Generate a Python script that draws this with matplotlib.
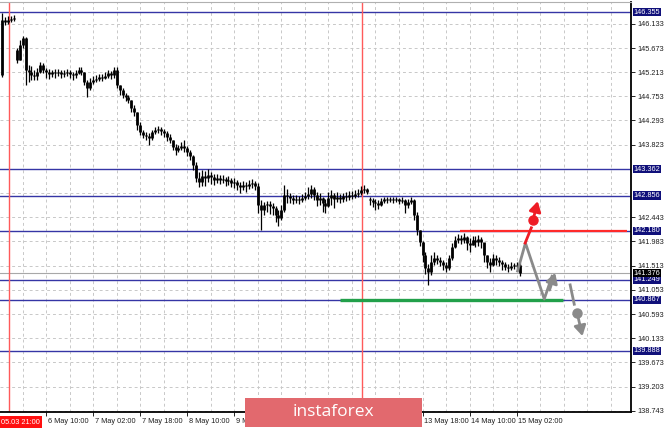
import numpy as np
import matplotlib
matplotlib.use("Agg")
import matplotlib.pyplot as plt
import matplotlib.transforms as mtrans
from matplotlib.patches import Rectangle

plt.rcParams['font.family'] = ['Liberation Sans', 'DejaVu Sans']

# H1 candles (price)
closes = [146.21, 146.17, 146.21, 146.23, 146.25, 145.45, 145.73, 145.87, 145.25, 145.22,
          145.16, 145.14, 145.22, 145.35, 145.25, 145.22, 145.18, 145.22, 145.20, 145.22,
          145.18, 145.20, 145.22, 145.18, 145.16, 145.20, 145.25, 145.22, 145.03, 144.91,
          145.03, 145.06, 145.08, 145.12, 145.10, 145.14, 145.20, 145.16, 145.25, 144.97,
          144.87, 144.78, 144.74, 144.68, 144.53, 144.45, 144.20, 144.07, 144.01, 143.99,
          143.95, 144.07, 144.11, 144.13, 144.09, 144.05, 143.97, 143.92, 143.78, 143.73,
          143.76, 143.80, 143.76, 143.69, 143.61, 143.44, 143.19, 143.11, 143.23, 143.19,
          143.25, 143.21, 143.15, 143.19, 143.15, 143.17, 143.13, 143.15, 143.09, 143.11,
          143.06, 143.02, 143.06, 143.04, 143.08, 143.09, 143.04, 142.68, 142.58, 142.68,
          142.69, 142.66, 142.62, 142.48, 142.43, 142.58, 142.87, 142.85, 142.81, 142.77,
          142.79, 142.77, 142.81, 142.85, 142.89, 142.98, 142.87, 142.77, 142.81, 142.71,
          142.66, 142.81, 142.87, 142.79, 142.83, 142.79, 142.85, 142.83, 142.87, 142.85,
          142.89, 142.91, 142.96, 142.98, 142.92, 142.77, 142.73, 142.71, 142.68, 142.75,
          142.79, 142.77, 142.79, 142.77, 142.79, 142.75, 142.77, 142.68, 142.73, 142.77,
          142.48, 142.20, 141.97, 141.72, 141.47, 141.40, 141.59, 141.66, 141.63, 141.59,
          141.53, 141.47, 141.66, 141.87, 142.01, 142.05, 142.01, 142.06, 141.95, 141.91,
          142.01, 141.97, 142.03, 141.97, 141.72, 141.59, 141.53, 141.66, 141.63, 141.59,
          141.55, 141.49, 141.47, 141.51, 141.51, 141.53, 141.376]
highs = [146.34, 146.27, 146.29, 146.29, 146.30, 145.67, 145.83, 145.90, 145.88, 145.35,
         145.33, 145.25, 145.29, 145.41, 145.39, 145.29, 145.27, 145.25, 145.27, 145.27,
         145.25, 145.25, 145.27, 145.25, 145.22, 145.25, 145.31, 145.31, 145.22, 145.06,
         145.10, 145.14, 145.16, 145.18, 145.18, 145.22, 145.25, 145.24, 145.31, 145.31,
         144.97, 144.91, 144.81, 144.78, 144.68, 144.59, 144.45, 144.26, 144.11, 144.07,
         144.05, 144.11, 144.17, 144.18, 144.17, 144.13, 144.09, 144.03, 143.92, 143.84,
         143.82, 143.88, 143.92, 143.80, 143.73, 143.63, 143.50, 143.31, 143.34, 143.32,
         143.36, 143.31, 143.27, 143.27, 143.25, 143.25, 143.21, 143.23, 143.19, 143.19,
         143.15, 143.11, 143.13, 143.11, 143.15, 143.17, 143.13, 143.09, 142.77, 142.73,
         142.75, 142.75, 142.71, 142.66, 142.58, 142.68, 143.06, 142.98, 142.91, 142.87,
         142.87, 142.85, 142.89, 142.92, 143.02, 143.06, 143.02, 142.92, 142.91, 142.83,
         142.79, 142.92, 142.96, 142.91, 142.92, 142.89, 142.91, 142.92, 142.94, 142.94,
         142.96, 142.98, 143.04, 143.06, 143.00, 142.83, 142.81, 142.79, 142.77, 142.81,
         142.83, 142.83, 142.83, 142.83, 142.83, 142.81, 142.83, 142.79, 142.79, 142.83,
         142.79, 142.54, 142.20, 141.99, 141.78, 141.55, 141.72, 141.78, 141.72, 141.68,
         141.63, 141.59, 141.72, 141.95, 142.08, 142.12, 142.10, 142.14, 142.08, 142.05,
         142.08, 142.08, 142.10, 142.06, 141.91, 141.72, 141.66, 141.74, 141.72, 141.68,
         141.63, 141.59, 141.55, 141.59, 141.57, 141.59, 141.57]
lows = [145.12, 146.11, 146.13, 146.17, 146.19, 145.39, 145.45, 145.67, 144.97, 145.03,
        145.06, 145.06, 145.06, 145.20, 145.20, 145.10, 145.08, 145.12, 145.10, 145.14,
        145.10, 145.12, 145.14, 145.10, 145.06, 145.10, 145.18, 145.16, 144.97, 144.74,
        144.87, 144.99, 145.03, 145.04, 145.04, 145.08, 145.10, 145.08, 145.10, 144.91,
        144.78, 144.72, 144.66, 144.62, 144.45, 144.38, 144.11, 144.01, 143.95, 143.92,
        143.82, 143.92, 144.03, 144.05, 144.01, 143.97, 143.90, 143.86, 143.73, 143.63,
        143.69, 143.73, 143.69, 143.61, 143.54, 143.34, 143.11, 143.02, 143.04, 143.04,
        143.11, 143.08, 143.06, 143.09, 143.08, 143.09, 143.04, 143.06, 143.02, 143.00,
        142.96, 142.91, 142.96, 142.92, 142.98, 143.00, 142.96, 142.52, 142.20, 142.48,
        142.54, 142.50, 142.48, 142.35, 142.27, 142.39, 142.54, 142.71, 142.71, 142.69,
        142.71, 142.69, 142.73, 142.77, 142.79, 142.81, 142.77, 142.66, 142.68, 142.54,
        142.52, 142.64, 142.68, 142.62, 142.73, 142.71, 142.73, 142.75, 142.77, 142.79,
        142.81, 142.83, 142.87, 142.91, 142.89, 142.68, 142.64, 142.58, 142.60, 142.66,
        142.71, 142.71, 142.73, 142.71, 142.73, 142.69, 142.71, 142.52, 142.62, 142.69,
        142.39, 142.10, 141.89, 141.59, 141.36, 141.15, 141.34, 141.53, 141.55, 141.51,
        141.43, 141.40, 141.43, 141.63, 141.85, 141.95, 141.93, 141.95, 141.82, 141.78,
        141.91, 141.87, 141.89, 141.85, 141.59, 141.47, 141.40, 141.51, 141.53, 141.51,
        141.43, 141.43, 141.40, 141.43, 141.45, 141.47, 141.32]
gap_opens = {0: 145.16, 5: 145.64, 125: 142.79}

# time axis labels (bar index -> text); labels hidden under the watermark left blank
time_pos = [15, 31, 47, 63, 79, 95, 111, 127, 143, 159, 175]
time_labels = ["6 May 10:00", "7 May 02:00", "7 May 18:00", "8 May 10:00", "9 May 02:00",
               "", "", "", "13 May 18:00", "14 May 10:00", "15 May 02:00"]

# price grid and labelled levels
grid_prices = [146.133, 145.673, 145.213, 144.753, 144.293, 143.823, 143.363, 142.903,
               142.443, 141.983, 141.513, 141.053, 140.593, 140.133, 139.673, 139.203, 138.743]
hidden_grid = [143.363, 142.903]
levels = [146.355, 143.362, 142.856, 142.180, 141.249, 140.867, 139.888]
last_price = 141.376

# forecast drawings (bar index, price)
zigzag = [(175.2, 141.39), (178.0, 141.95), (184.4, 140.88), (188.4, 141.43)]
red_up = [(177.9, 141.95), (180.0, 142.24), (180.6, 142.39), (182.4, 142.80)]
gray_down = [(193.2, 141.15), (194.6, 140.78), (195.6, 140.61), (197.6, 140.12)]
red_level_start = 155.8
green_level = (114.9, 190.8, 140.855)
vlines_red = [2.4, 122.5]

W, H = 665, 429
fig = plt.figure(figsize=(W / 100, H / 100), dpi=100)
ax = fig.add_axes([0, 17 / H, 631 / W, 1 - 19 / H])

n = len(closes)
opens = [closes[0]] + closes[:-1]
for k, v in gap_opens.items():
    opens[k] = v
x = np.arange(n)
o = np.array(opens)
c = np.array(closes)
ax.vlines(x, lows, highs, color="black", lw=0.9, zorder=3)
lo = np.minimum(o, c)
hi = np.maximum(o, c)
hi = np.where(hi - lo < 0.012, lo + 0.012, hi)
ax.vlines(x, lo, hi, color="black", lw=2.0, zorder=3)

ax.set_xlim(-0.7, 213.9)
ax.set_ylim(138.722, 146.553)

# grid
gcol = "#c8c8c8"
for g in grid_prices:
    ax.axhline(g, color=gcol, lw=0.7, ls=(0, (3, 3)), zorder=1)
for gx in range(7, 214, 8):
    ax.axvline(gx, color=gcol, lw=0.7, ls=(0, (3, 3)), zorder=1)

# level lines
blue = "#3535a5"
for lv in levels:
    ax.axhline(lv, color=blue, lw=1.0, zorder=2)
ax.axhline(last_price, color="#a8a8a8", lw=0.8, zorder=2)
ax.hlines(levels[3], red_level_start, 212.6, color="#ff2a2a", lw=1.6, zorder=4)
ax.hlines(green_level[2], green_level[0], green_level[1], color="#22a04a", lw=2.4, zorder=4)
for vx in vlines_red:
    ax.axvline(vx, color="#ff5a5a", lw=1.0, zorder=2)

# forecast arrows
gray = "#8a8a8a"
zx, zy = zip(*zigzag[:3])
ax.plot(list(zx) + [zigzag[3][0] - 1.2], list(zy) + [zigzag[3][1] - 0.09], color=gray, lw=2.0,
        solid_capstyle="butt", zorder=5)
ax.annotate("", xy=zigzag[3], xytext=(zigzag[2][0] + 1.5, zigzag[2][1] + 0.12),
            arrowprops=dict(arrowstyle="-|>,head_length=0.6,head_width=0.35", color=gray, lw=2.0),
            zorder=5)

rc = "#ee1c25"
ax.plot([red_up[0][0], red_up[1][0]], [red_up[0][1], red_up[1][1]], color=rc, lw=2.0, zorder=5)
ax.plot(*red_up[2], "o", color=rc, ms=6.5, zorder=5)
ax.annotate("", xy=red_up[3], xytext=red_up[2],
            arrowprops=dict(arrowstyle="-|>,head_length=0.6,head_width=0.35", color=rc, lw=2.0),
            zorder=5)

ax.plot([gray_down[0][0], gray_down[1][0]], [gray_down[0][1], gray_down[1][1]], color=gray,
        lw=2.0, zorder=5)
ax.plot(*gray_down[2], "o", color=gray, ms=6.5, zorder=5)
ax.annotate("", xy=gray_down[3], xytext=gray_down[2],
            arrowprops=dict(arrowstyle="-|>,head_length=0.6,head_width=0.35", color=gray, lw=2.0),
            zorder=5)

# axes styling
ax.spines["left"].set_visible(False)
ax.spines["top"].set_color("#b0b0b0")
ax.spines["top"].set_linewidth(0.8)
ax.spines["right"].set_linewidth(1.3)
ax.spines["bottom"].set_linewidth(1.3)

ax.yaxis.tick_right()
shown = [g for g in grid_prices if g not in hidden_grid]
ax.set_yticks(shown)
ax.set_yticklabels(["%.3f" % g for g in shown], fontsize=5.3, color="#202020")
ax.tick_params(axis="y", length=3, width=0.6, pad=1.5)

ax.set_xticks(time_pos)
ax.set_xticklabels(time_labels, fontsize=5.3, color="#202020", ha="left")
ax.tick_params(axis="x", length=3, width=0.6, pad=1.5)
for lab in ax.get_xticklabels():
    lab.set_transform(lab.get_transform() + mtrans.ScaledTranslation(1.5 / 100, 0, fig.dpi_scale_trans))

# price labels on the right
tr = mtrans.blended_transform_factory(ax.transAxes, ax.transData)
for lv in levels:
    ax.text(1.004, lv, "%.3f" % lv, transform=tr, fontsize=5.3, color="white", va="center",
            ha="left", zorder=10, bbox=dict(boxstyle="square,pad=0.08", fc="#10107a", ec="none"))
ax.text(1.004, last_price, "%.3f" % last_price, transform=tr, fontsize=5.3, color="white",
        va="center", ha="left", zorder=11, bbox=dict(boxstyle="square,pad=0.08", fc="black", ec="none"))

ax.text(0.002, -0.016, "05.03 21:00", transform=ax.transAxes, fontsize=5.3, color="white",
        va="top", ha="left", zorder=10, bbox=dict(boxstyle="square,pad=0.3", fc="#ff1010", ec="none"))

# watermark
fig.patches.append(Rectangle((245 / W, 2 / H), 177 / W, 29 / H, transform=fig.transFigure,
                             fc="#e2696e", ec="none", zorder=20))
fig.text(333.5 / W, 17 / H, "instaforex", color="white", fontsize=12.5, family="Open Sans",
         ha="center", va="center", zorder=21)

fig.savefig("out.png", dpi=100)
